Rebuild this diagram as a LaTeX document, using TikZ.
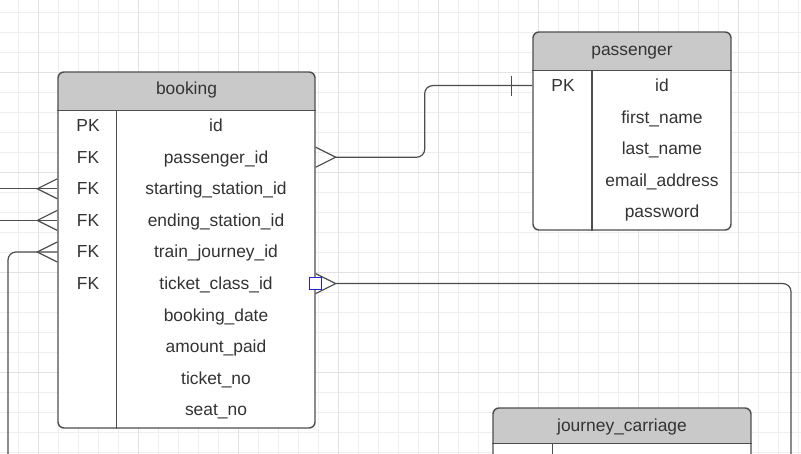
\documentclass[tikz,border=0pt]{standalone}
\usepackage{fontspec}
\setmainfont{Liberation Sans}
\usetikzlibrary{calc}
\definecolor{inkgrey}{HTML}{4D4D4D}
\definecolor{textgrey}{HTML}{333333}
\definecolor{headgrey}{HTML}{C9C9C9}
\definecolor{gridminor}{HTML}{EEEEEE}
\definecolor{gridmaj}{HTML}{E2E2E2}
\definecolor{handleblue}{HTML}{2424CC}
\tikzset{
  gridline/.style={line width=0.6pt, draw=gridminor},
  gridmajor/.style={line width=0.8pt, draw=gridmaj},
  tbl/.style={draw=inkgrey, line width=1.4pt, fill=white, rounded corners=6pt, inner sep=0pt,
    path picture={\fill[headgrey, sharp corners] (path picture bounding box.north west) rectangle ([yshift=-#1]path picture bounding box.north east);}},
  tbl/.default=39pt,
  rule/.style={draw=inkgrey, line width=1.4pt},
  field/.style={text=textgrey, inner sep=0pt, text height=12pt, text depth=0pt, font={\fontsize{17.4}{20}\selectfont}},
  link/.style={draw=inkgrey, line width=1.2pt, rounded corners=8pt},
  handle/.style={draw=handleblue, fill=white, line width=1pt, minimum size=12pt, inner sep=0pt},
  crowfoot/.pic={\draw[inkgrey, line width=1.2pt] (0,-10) -- (-20,0) -- (0,10);},
  onebar/.pic={\draw[inkgrey, line width=1.2pt] (-21,-10) -- (-21,10);},
}
\begin{document}
\begin{tikzpicture}[x=1pt, y=-1pt]
\useasboundingbox (0,0) rectangle (801,454);
\clip (0,0) rectangle (801,454);
\fill[white] (0,0) rectangle (801,454);

\foreach \x in {18,38,...,798} \draw[gridline] (\x,0) -- (\x,454);
\foreach \y in {12,32,...,452} \draw[gridline] (0,\y) -- (801,\y);
\foreach \x in {38,138,...,738} \draw[gridmajor] (\x,0) -- (\x,454);
\foreach \y in {72,172,272,372} \draw[gridmajor] (0,\y) -- (801,\y);

% tables
\node[tbl, minimum width=257pt, minimum height=356pt] (booking) at (186.5,250) {};
\draw[rule] ([yshift=-39pt]booking.north west) -- ([yshift=-39pt]booking.north east);
\draw[rule] ([xshift=59pt, yshift=-39pt]booking.north west) -- ([xshift=59pt]booking.south west);
\node[field] (bookingT) at (186.5,89) {booking};
\foreach \f [count=\i] in {id, passenger\_id, starting\_station\_id, ending\_station\_id, train\_journey\_id, ticket\_class\_id, booking\_date, amount\_paid, ticket\_no, seat\_no}
  \node[field] (b\i) at (216,{94+31.6*\i}) {\f};
\foreach \k [count=\i] in {PK,FK,FK,FK,FK,FK}
  \node[field] (bk\i) at (88,{94+31.6*\i}) {\k};

\node[tbl, minimum width=198pt, minimum height=198pt] (passenger) at (632,131) {};
\draw[rule] ([yshift=-39pt]passenger.north west) -- ([yshift=-39pt]passenger.north east);
\draw[rule] ([xshift=59.5pt, yshift=-39pt]passenger.north west) -- ([xshift=59.5pt]passenger.south west);
\node[field] (passengerT) at (632,49.7) {passenger};
\foreach \f [count=\i] in {id, first\_name, last\_name, email\_address, password}
  \node[field] (p\i) at (662,{54+31.6*\i}) {\f};
\node[field] (pk1) at (563,85.6) {PK};

\node[tbl=36pt, minimum width=258pt, minimum height=200pt] (journey) at (622,508) {};
\draw[rule] ([yshift=-36pt]journey.north west) -- ([yshift=-36pt]journey.north east);
\draw[rule] ([xshift=60pt, yshift=-36pt]journey.north west) -- ([xshift=60pt]journey.south west);
\node[field] (journeyT) at (622,425.7) {journey\_carriage};

% relationships
\coordinate (offW) at (-10,0);
\coordinate (trainDown) at (8,470);
\coordinate (classDown) at (791,470);
\draw[link] (booking.west |- b3) -- (offW |- b3);
\draw[link] (booking.west |- b4) -- (offW |- b4);
\draw[link] (booking.west |- b5) -| (trainDown);
\draw[link] ($(booking.east |- b2)+(20,0)$) -- ++(89,0) |- (passenger.west |- p1);
\draw[link] ($(booking.east |- b6)+(20,0)$) -| (classDown);
\pic at (booking.west |- b3) {crowfoot};
\pic at (booking.west |- b4) {crowfoot};
\pic at (booking.west |- b5) {crowfoot};
\pic[xscale=-1] at (booking.east |- b2) {crowfoot};
\pic[xscale=-1] at (booking.east |- b6) {crowfoot};
\pic at (passenger.west |- p1) {onebar};
\node[handle] (grip) at (booking.east |- b6) {};
\end{tikzpicture}
\end{document}
